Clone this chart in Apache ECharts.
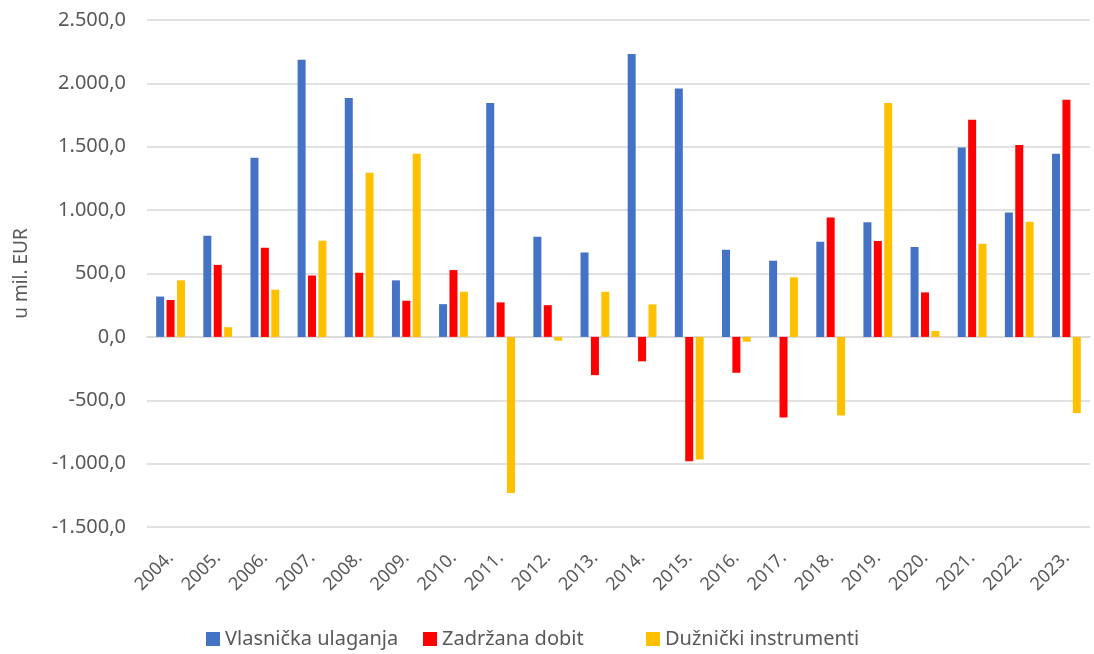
<!DOCTYPE html>
<html>
<head>
<meta charset="utf-8">
<script src="https://cdn.jsdelivr.net/npm/echarts@6/dist/echarts.min.js"></script>
<style>
  html, body { margin: 0; padding: 0; background: #fff; }
  #chart { width: 1094px; height: 654px; }
</style>
</head>
<body>
<div id="chart"></div>
<script>
// godine
var years = ['2004.', '2005.', '2006.', '2007.', '2008.', '2009.', '2010.', '2011.', '2012.', '2013.',
    '2014.', '2015.', '2016.', '2017.', '2018.', '2019.', '2020.', '2021.', '2022.', '2023.'];
// serije (u mil. EUR)
var vlasnicka = [318, 797, 1414, 2186, 1884, 446, 258, 1846, 789, 666, 2232, 1960, 688, 601, 750, 905, 710, 1495, 982, 1444];
var zadrzana = [291, 568, 704, 484, 506, 285, 527, 272, 250, -302, -193, -982, -283, -636, 941, 756, 351, 1713, 1514, 1871];
var duznicki = [446, 76, 372, 759, 1294, 1444, 356, -1232, -30, 356, 256, -968, -38, 470, -620, 1846, 46, 734, 908, -601];
var seriesNames = ['Vlasnička ulaganja', 'Zadržana dobit', 'Dužnički instrumenti'];
var colors = ['#4472C4', '#FF0000', '#FFC000'];

var FONT = 'Noto Sans';
var legendLeft = [206, 423, 646]; // kao u Excelu, stupci legende

// hrvatski format broja: 2.500,0
function fmt(v) {
    var neg = v < 0;
    var s = Math.abs(v).toFixed(1).split('.');
    var int = s[0].replace(/\B(?=(\d{3})+(?!\d))/g, '.');
    return (neg ? '-' : '') + int + ',' + s[1];
}

var legends = seriesNames.map(function(n, i) {
    return {
        top: 629,
        left: legendLeft[i],
        padding: 0,
        itemWidth: 14,
        itemHeight: 14,
        itemGap: 0,
        icon: 'rect',
        textStyle: { fontSize: 20, color: '#595959', fontFamily: FONT },
        data: [n]
    };
});

var chart = echarts.init(document.getElementById('chart'));
var option = {
    animation: false,
    color: colors,
    textStyle: { fontFamily: FONT },
    grid: { left: 147, right: 4, top: 20, bottom: 127 },
    legend: legends,
    xAxis: {
        type: 'category',
        data: years,
        axisTick: { show: false },
        axisLine: { onZero: true, lineStyle: { color: '#d9d9d9', width: 1.5 } },
        axisLabel: {
            interval: 0,
            rotate: 45,
            fontSize: 18,
            color: '#595959',
            fontFamily: FONT,
            margin: 28
        }
    },
    yAxis: {
        type: 'value',
        min: -1500,
        max: 2500,
        interval: 500,
        name: 'u mil. EUR',
        nameLocation: 'middle',
        nameGap: 116,
        nameTextStyle: { fontSize: 19, color: '#595959', fontFamily: FONT },
        axisLine: { show: false },
        axisTick: { show: false },
        splitLine: { lineStyle: { color: '#d9d9d9', width: 1.5 } },
        axisLabel: {
            formatter: fmt,
            fontSize: 20,
            color: '#595959',
            fontFamily: FONT,
            margin: 21
        }
    },
    series: [
        { name: seriesNames[0], type: 'bar', data: vlasnicka, barWidth: 8, barGap: '30%' },
        { name: seriesNames[1], type: 'bar', data: zadrzana, barWidth: 8, barGap: '30%' },
        { name: seriesNames[2], type: 'bar', data: duznicki, barWidth: 8, barGap: '30%' }
    ]
};
chart.setOption(option);
</script>
</body>
</html>
